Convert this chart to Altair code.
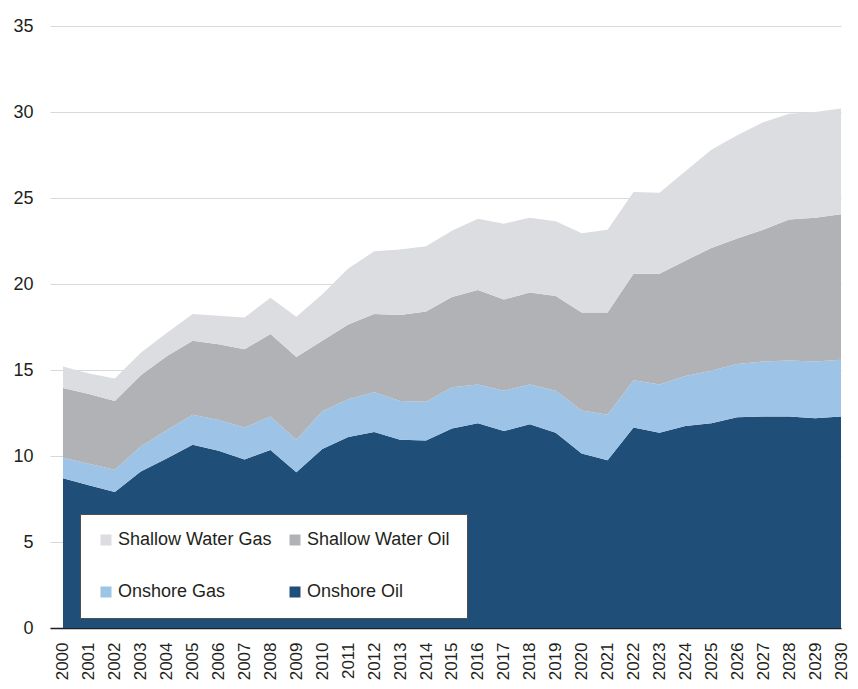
import altair as alt
import pandas as pd

years = list(range(2000, 2031))
onshore_oil = [8.7, 8.3, 7.9, 9.1, 9.85, 10.65, 10.3, 9.8, 10.35, 9.05, 10.4, 11.1, 11.4, 10.95, 10.9,
               11.6, 11.9, 11.45, 11.85, 11.35, 10.15, 9.75, 11.65, 11.35, 11.75, 11.9, 12.25, 12.3,
               12.3, 12.2, 12.3]
onshore_gas = [1.2, 1.25, 1.3, 1.45, 1.65, 1.75, 1.8, 1.85, 1.95, 1.9, 2.2, 2.2, 2.3, 2.25, 2.25,
               2.4, 2.25, 2.35, 2.3, 2.45, 2.5, 2.65, 2.75, 2.8, 2.9, 3.05, 3.1, 3.2, 3.25, 3.3, 3.3]
shallow_oil = [4.05, 4.05, 4.0, 4.15, 4.3, 4.3, 4.4, 4.55, 4.8, 4.8, 4.1, 4.35, 4.55, 5.0, 5.25,
               5.25, 5.5, 5.3, 5.35, 5.5, 5.7, 5.95, 6.2, 6.45, 6.7, 7.15, 7.3, 7.65, 8.2, 8.35, 8.45]
shallow_gas = [1.25, 1.2, 1.3, 1.3, 1.35, 1.55, 1.65, 1.85, 2.1, 2.35, 2.7, 3.25, 3.65, 3.8, 3.8,
               3.85, 4.15, 4.4, 4.35, 4.35, 4.6, 4.8, 4.75, 4.7, 5.2, 5.7, 6.0, 6.25, 6.15, 6.15, 6.15]

series_names = ["Onshore Oil", "Onshore Gas", "Shallow Water Oil", "Shallow Water Gas"]
series_values = [onshore_oil, onshore_gas, shallow_oil, shallow_gas]
# legend fills column by column: order so that rows read SWG | SWO, then OG | OO
legend_order = ["Shallow Water Gas", "Onshore Gas", "Shallow Water Oil", "Onshore Oil"]
legend_colors = ["#dcdde0", "#9dc3e6", "#b1b2b6", "#1f4e78"]

rows = []
for k, (name, vals) in enumerate(zip(series_names, series_values)):
    for y, v in zip(years, vals):
        rows.append({"year": y, "series": name, "value": v, "ord": k})
df = pd.DataFrame(rows)

FONT = "Liberation Sans"
TXT = "#231f20"

chart = alt.Chart(df).mark_area(opacity=1).encode(
    x=alt.X("year:Q",
            scale=alt.Scale(domain=[1999.5, 2030], nice=False, zero=False),
            axis=alt.Axis(values=years, format="d", labelAngle=-90, labelAlign="right",
                          labelBaseline="middle", tickSize=0, labelPadding=14, grid=False,
                          domainColor="#231f20", domainWidth=1.5, labelFontSize=17,
                          labelColor=TXT, labelFont=FONT, title=None, labelOverlap=False,
                          labelBound=False)),
    y=alt.Y("value:Q", stack="zero",
            scale=alt.Scale(domain=[0, 35], nice=False),
            axis=alt.Axis(values=[0, 5, 10, 15, 20, 25, 30, 35], tickSize=0, labelPadding=17,
                          domain=False, gridColor="#d9d9d9", gridWidth=1.2, labelFontSize=18,
                          labelColor=TXT, labelFont=FONT, title=None)),
    color=alt.Color("series:N",
                    scale=alt.Scale(domain=legend_order, range=legend_colors),
                    legend=alt.Legend(title=None, orient="none", legendX=30, legendY=488,
                                      columns=2, fillColor="white", strokeColor="#505050",
                                      padding=17, rowPadding=34, columnPadding=14,
                                      symbolType="square", symbolSize=121, symbolStrokeWidth=0,
                                      labelFontSize=18, labelFont=FONT, labelColor=TXT,
                                      labelOffset=3, labelLimit=300)),
    order=alt.Order("ord:Q"),
).properties(
    width=791, height=602,
    padding={"left": 42, "top": 18, "right": 9, "bottom": 53},
    autosize=alt.AutoSizeParams(type="none"),
).configure_view(stroke=None)

chart.save("out.html", embed_options={"renderer": "svg", "actions": False})
